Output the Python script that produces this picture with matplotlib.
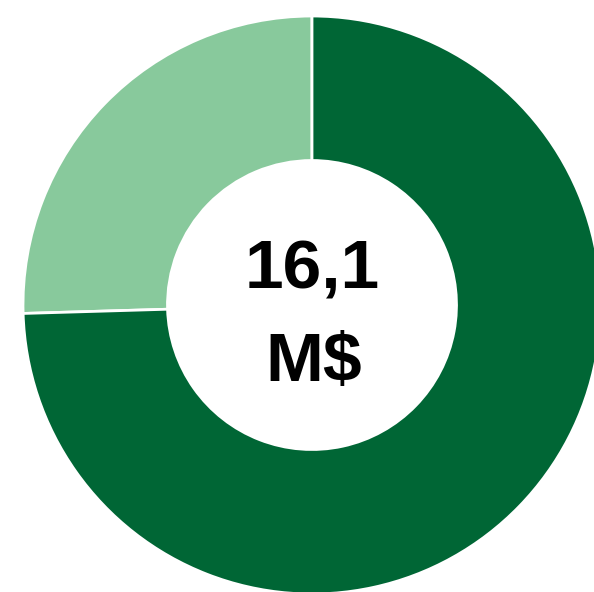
import matplotlib
matplotlib.use('Agg')
from matplotlib import pyplot as plt

# share of the total (M$), light slice first, counter-clockwise from the top
labels = ['Part A', 'Part B']
values = [4.1, 12.0]
colors = ['#88c99c', '#006635']
total_text = ['16,1', 'M$']

fig = plt.figure(figsize=(5.94, 5.92), dpi=100)
ax = fig.add_axes([0, 0, 1, 1])
ax.pie(values, labels=None, colors=colors, startangle=90, counterclock=True,
       radius=1.0, center=(0, 0),
       wedgeprops=dict(width=0.5, edgecolor='white', linewidth=2.0))
ax.set_aspect('auto')
ax.set_xlim(-1.0796, 0.9758)
ax.set_ylim(-0.9931, 1.0554)
ax.axis('off')

ax.text(0, 0.0554, total_text[0], ha='center', va='baseline',
        fontsize=50, fontweight='bold', family='Liberation Sans', color='black')
ax.text(0.007, -0.263, total_text[1], ha='center', va='baseline',
        fontsize=50, fontweight='bold', family='Liberation Sans', color='black')

fig.savefig('out.png', dpi=100)
